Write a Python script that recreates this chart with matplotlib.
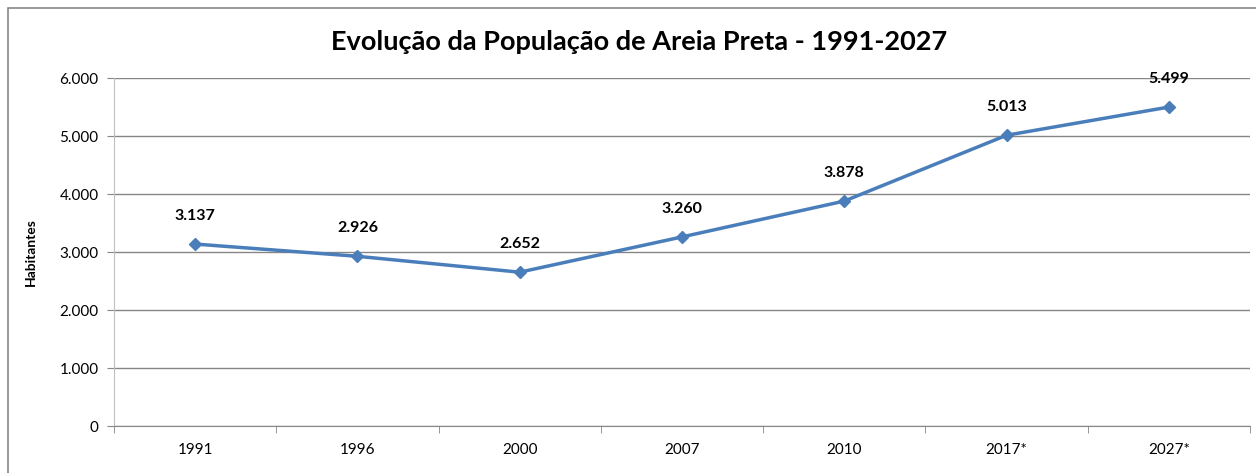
import matplotlib.pyplot as plt
from matplotlib.patches import Rectangle
from matplotlib.ticker import FuncFormatter

plt.rcParams['font.family'] = ['Lato', 'DejaVu Sans']

anos = ["1991", "1996", "2000", "2007", "2010", "2017*", "2027*"]
populacao = [3137, 2926, 2652, 3260, 3878, 5013, 5499]

fig = plt.figure(figsize=(12.56, 4.73), dpi=100)
ax = fig.add_axes([114/1256, 1 - 426/473, 1136/1256, 348/473])

x = range(len(anos))
ax.plot(x, populacao, color='#4a7ebb', linewidth=2.5, marker='D', markersize=6.5)

def fmt(v, pos=None):
    return f"{int(v):,}".replace(",", ".")

for i, v in zip(x, populacao):
    ax.annotate(fmt(v), (i, v), xytext=(0, 15), textcoords='offset points',
                ha='center', va='bottom', fontsize=11.5, fontweight='bold')

ax.set_xlim(-0.5, len(anos) - 0.5)
ax.set_ylim(0, 6000)
ax.set_yticks(range(0, 6001, 1000))
ax.yaxis.set_major_formatter(FuncFormatter(fmt))
ax.set_xticks(list(x))
ax.set_xticklabels(anos)
ax.set_xticks([i - 0.5 for i in range(len(anos) + 1)], minor=True)
ax.tick_params(axis='x', which='major', length=0, pad=12, labelsize=11)
ax.tick_params(axis='x', which='minor', length=5, color='#868686', direction='out')
ax.tick_params(axis='y', length=5, color='#868686', labelsize=11, pad=6)
ax.grid(axis='y', color='#868686', linewidth=1)
ax.set_axisbelow(True)
for s in ['top', 'right']:
    ax.spines[s].set_visible(False)
ax.spines['left'].set_color('#bfbfbf')
ax.spines['bottom'].set_color('#868686')

ax.set_ylabel("Habitantes", fontsize=10, fontweight='bold', labelpad=16)

fig.text(639/1256, 1 - 42/473, "Evolução da População de Areia Preta - 1991-2027",
         ha='center', va='center', fontsize=19.5, fontweight='bold')

fig.patches.append(Rectangle((8/1256, -0.1), 1.2, 1 - 8/473 + 0.1,
                             transform=fig.transFigure, fill=False,
                             edgecolor='#868686', linewidth=1.2))

fig.savefig("out.png", dpi=100)
